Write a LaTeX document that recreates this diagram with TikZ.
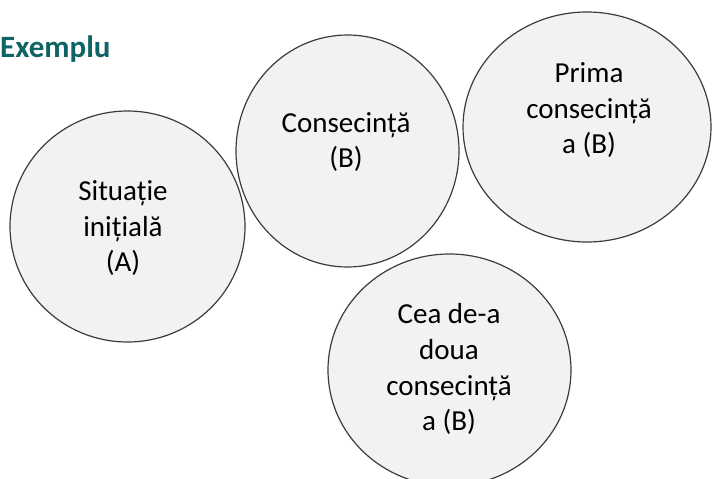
\documentclass[tikz,border=0pt]{standalone}
\usepackage{fontspec}
\setmainfont{Carlito}
\usetikzlibrary{shapes.geometric}
\definecolor{titlecol}{HTML}{0E6464}
\definecolor{ringfill}{HTML}{F2F2F2}
\definecolor{ringline}{HTML}{3C3C3C}
\begin{document}
\begin{tikzpicture}[x=1pt,y=-1pt,
  ring/.style={ellipse, draw=ringline, fill=ringfill, line width=1.2pt, inner sep=0pt},
  txt/.style={anchor=base, font=\fontsize{29}{36}\selectfont, text=black, inner sep=0pt},
  ttl/.style={anchor=base west, font=\bfseries\fontsize{31}{37}\selectfont, text=titlecol, inner sep=0pt}]
\useasboundingbox (0,0) rectangle (712,479);
\clip (0,0) rectangle (712,479);
\node[ttl] (title) at (0,57) {Exemplu};
\node[ring, minimum width=235pt, minimum height=231pt] (A) at (127.5,226.5) {};
\node[ring, minimum width=223pt, minimum height=232pt] (B) at (347.5,151) {};
\node[ring, minimum width=248pt, minimum height=230pt] (C) at (587,127) {};
\node[ring, minimum width=243pt, minimum height=232pt] (D) at (449.5,370) {};
% A
\node[txt] (a1) at (123,200) {Situație};
\node[txt] (a2) at (123,236) {inițială};
\node[txt] (a3) at (123,271) {(A)};
% B
\node[txt] (b1) at (346,132) {Consecință};
\node[txt] (b2) at (346,167) {(B)};
% C
\node[txt] (c1) at (589,82) {Prima};
\node[txt] (c2) at (589,118) {consecință};
\node[txt] (c3) at (589,153) {a (B)};
% D
\node[txt] (d1) at (449,323) {Cea de-a};
\node[txt] (d2) at (449,359) {doua};
\node[txt] (d3) at (449,395) {consecință};
\node[txt] (d4) at (449,430) {a (B)};
\end{tikzpicture}
\end{document}
